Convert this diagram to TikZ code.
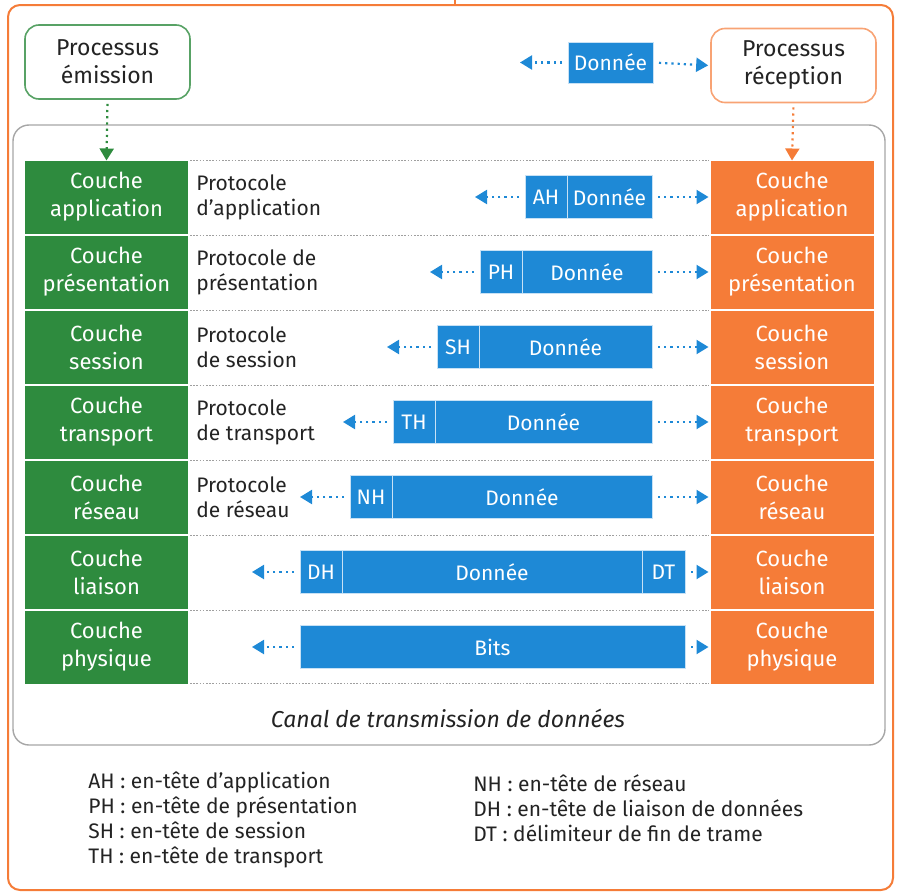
\documentclass[tikz,border=0pt]{standalone}
\usepackage{fontspec}
\setmainfont{Fira Sans}
\usetikzlibrary{positioning,arrows.meta}
\definecolor{vertcouche}{RGB}{46,139,62}
\definecolor{orangecouche}{RGB}{245,124,56}
\definecolor{bleupaquet}{RGB}{30,137,214}
\definecolor{gristexte}{RGB}{35,35,35}
\tikzset{
  couche/.style={minimum width=81.5pt, minimum height=36.5pt, inner sep=0pt, outer sep=0pt,
    align=center, text=white, font=\fontsize{11}{14}\selectfont},
  processus/.style={draw, fill=white, rounded corners=7pt, line width=0.8pt, minimum width=82.5pt,
    minimum height=37pt, align=center, text=gristexte, font=\fontsize{11.5}{14}\selectfont},
  protocole/.style={align=left, inner sep=0pt, text=gristexte, font=\fontsize{10.5}{12.5}\selectfont},
  paquet/.style={fill=bleupaquet, draw=white!75!bleupaquet, line width=0.5pt, minimum height=21.5pt,
    inner sep=0pt, outer sep=0pt, text=white, font=\fontsize{10.5}{12}\selectfont},
  fleche/.style={bleupaquet, line width=1.1pt, dotted, shorten <=3pt, shorten >=1pt,
    -{Triangle[width=7pt,length=6pt]}},
  descente/.style={line width=1.1pt, dotted, shorten <=2pt, -{Triangle[width=7pt,length=6pt]}},
  separateur/.style={gray!75, line width=0.8pt, dash pattern=on 0.8pt off 0.8pt},
  legende/.style={anchor=base west, inner sep=0pt, text=gristexte, font=\fontsize{10.5}{12}\selectfont}
}
\begin{document}
\begin{tikzpicture}[x=0.5pt,y=-0.5pt]
\useasboundingbox (0,0) rectangle (900,894);
% cadres
\draw[orangecouche, line width=1pt, rounded corners=6pt] (8,5) rectangle (893,890);
\draw[orangecouche, line width=1pt] (455,0) -- (455,5);
\draw[gray!70, line width=0.7pt, rounded corners=8pt] (13,125) rectangle (885,745);

% processus
\node[processus, draw=vertcouche!80] (pe) at (107.5,62) {Processus\\émission};
\node[processus, draw=orangecouche!70] (pr) at (793.5,65.5) {Processus\\réception};
\node[paquet, minimum width=42.5pt, minimum height=20.5pt] (dtop) at (610.5,62.5) {Donnée};
\coordinate (gtop) at (518,62.5);
\draw[fleche] (dtop.west) -- (gtop);
\draw[fleche] (dtop.east) -- (pr.west);

% couches
\foreach \i/\nom in {1/application,2/présentation,3/session,4/transport,5/réseau,6/liaison,7/physique}{
  \node[couche, fill=vertcouche] (e\i) at (106.5,{197+75*(\i-1)}) {Couche\\\nom};
  \node[couche, fill=orangecouche] (r\i) at (792,{197+75*(\i-1)}) {Couche\\\nom};
  \draw[separateur] ([xshift=1pt]e\i.north east) -- ([xshift=-1pt]r\i.north west);
}
\draw[separateur] ([xshift=1pt]e7.south east) -- ([xshift=-1pt]r7.south west);
\draw[descente, vertcouche] (pe.south) -- (e1.north);
\draw[descente, orangecouche] (pr.south) -- (r1.north);

% protocoles
\foreach \i/\texte in {1/{Protocole\\d’application},2/{Protocole de\\présentation},
    3/{Protocole\\de session},4/{Protocole\\de transport},5/{Protocole\\de réseau}}{
  \node[protocole, right=4pt of e\i] (p\i) {\texte};
}

% paquets
\foreach \i/\h/\xg in {1/AH/525,2/PH/480,3/SH/437,4/TH/393,5/NH/350}{
  \node[paquet, minimum width=21pt, anchor=west] (h\i) at (\xg,{197+75*(\i-1)}) {\h};
  \node[paquet, anchor=west, minimum width={(610-\xg)*0.5pt}] (d\i) at (h\i.east) {Donnée};
  \coordinate (g\i) at ([xshift=-26pt]h\i.west);
  \draw[fleche] (h\i.west) -- (g\i);
  \draw[fleche] (d\i.east) -- (r\i.west);
}
\node[paquet, minimum width=21pt, anchor=west] (h6) at (300,572) {DH};
\node[paquet, minimum width=150pt, anchor=west] (d6) at (h6.east) {Donnée};
\node[paquet, minimum width=21.5pt, anchor=west] (t6) at (d6.east) {DT};
\coordinate (g6) at ([xshift=-25pt]h6.west);
\draw[fleche] (h6.west) -- (g6);
\draw[fleche] (t6.east) -- (r6.west);
\node[paquet, minimum width=192.5pt, anchor=west] (b7) at (300,647) {Bits};
\coordinate (g7) at ([xshift=-25pt]b7.west);
\draw[fleche] (b7.west) -- (g7);
\draw[fleche] (b7.east) -- (r7.west);

\node[text=gristexte, font=\fontsize{11.5}{14}\itshape] (canal) at (448,718) {Canal de transmission de données};

% legende
\foreach \j/\t in {1/{AH : en-tête d’application},2/{PH : en-tête de présentation},
    3/{SH : en-tête de session},4/{TH : en-tête de transport}}{
  \node[legende] (la\j) at (88,{788+25.3*(\j-1)}) {\t};
}
\foreach \j/\t in {1/{NH : en-tête de réseau},2/{DH : en-tête de liaison de données},
    3/{DT : délimiteur de fin de trame}}{
  \node[legende] (lb\j) at (473,{791+25*(\j-1)}) {\t};
}
\end{tikzpicture}
\end{document}
